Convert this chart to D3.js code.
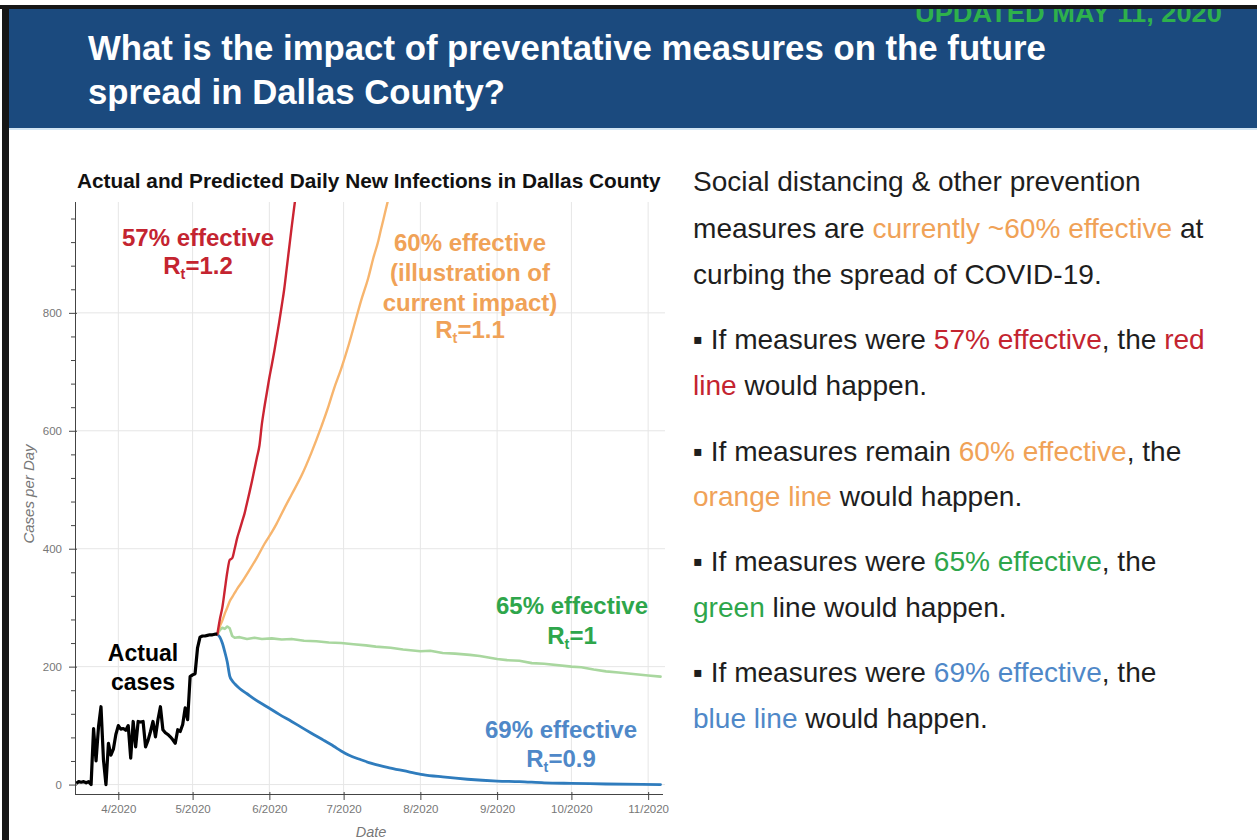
<!DOCTYPE html>
<html>
<head>
<meta charset="utf-8">
<script src="https://cdn.jsdelivr.net/npm/d3@7"></script>
<style>
  html, body { margin: 0; padding: 0; background: #fff; }
  svg { display: block; }
</style>
</head>
<body>
<svg id="chart" width="1257" height="840"></svg>
<script>
// ---------------- DATA ----------------
const actualStart = "2020-03-15";
// daily reported cases, 2020-03-15 .. 2020-05-11
const actualCases = [2, 5, 4, 5, 3, 5, 0, 95, 40, 98, 132, 42, 0, 70, 50, 60, 85,
  100, 94, 95, 92, 100, 45, 107, 64, 107, 106, 107, 64, 75, 90, 107, 81, 110, 132,
  93, 88, 85, 81, 76, 70, 93, 90, 102, 130, 110, 183, 186, 188, 232, 250, 252, 252,
  253, 254, 254, 255, 255];

const red57 = [["2020-05-11",255],["2020-05-12",280],["2020-05-13",300],["2020-05-14",330],["2020-05-15",360],
  ["2020-05-16",381],["2020-05-17",384],["2020-05-18",400],["2020-05-19",418],["2020-05-20",432],["2020-05-21",446],
  ["2020-05-22",460],["2020-05-23",478],["2020-05-24",496],["2020-05-25",515],["2020-05-26",535],["2020-05-27",555],
  ["2020-05-28",575],["2020-05-29",612],["2020-05-30",640],["2020-05-31",665],["2020-06-01",690],["2020-06-02",712],
  ["2020-06-03",735],["2020-06-04",760],["2020-06-05",785],["2020-06-06",812],["2020-06-07",840],["2020-06-08",875],
  ["2020-06-09",910],["2020-06-10",945],["2020-06-11",978],["2020-06-12",1010]];

const orange60 = [["2020-05-11",255],["2020-05-12",268],["2020-05-13",278],["2020-05-14",290],["2020-05-15",300],
  ["2020-05-16",311],["2020-05-17",318],["2020-05-18",325],["2020-05-19",332],["2020-05-21",344],["2020-05-24",364],
  ["2020-05-27",385],["2020-05-30",408],["2020-06-02",428],["2020-06-04",443],["2020-06-07",468],["2020-06-10",492],
  ["2020-06-14",524],["2020-06-18",563],["2020-06-22",607],["2020-06-25",643],["2020-06-27",670],["2020-06-30",705],
  ["2020-07-03",745],["2020-07-06",790],["2020-07-08",820],["2020-07-11",860],["2020-07-13",893],["2020-07-15",922],
  ["2020-07-16",940],["2020-07-17",957],["2020-07-18",975],["2020-07-19",992]];

const green65 = [["2020-05-11",255],["2020-05-12",262],["2020-05-13",266],["2020-05-14",264],["2020-05-15",268],
  ["2020-05-16",265],["2020-05-17",252],["2020-05-18",249],["2020-05-20",250],["2020-05-23",247],["2020-05-26",249],
  ["2020-05-29",247],["2020-06-02",248],["2020-06-06",246],["2020-06-10",247],["2020-06-15",244],["2020-06-20",243],
  ["2020-06-25",241],["2020-06-30",240],["2020-07-05",238],["2020-07-10",236],["2020-07-14",234],["2020-07-20",232],
  ["2020-07-25",229],["2020-08-01",226],["2020-08-05",227],["2020-08-10",223],["2020-08-15",222],["2020-08-21",220],
  ["2020-08-25",218],["2020-09-01",213],["2020-09-05",211],["2020-09-10",210],["2020-09-15",206],["2020-09-20",205],
  ["2020-10-01",200],["2020-10-05",199],["2020-10-10",195],["2020-10-15",192],["2020-10-20",190],["2020-10-25",188],
  ["2020-11-01",185],["2020-11-06",183]];

const blue69 = [["2020-05-11",255],["2020-05-12",250],["2020-05-13",240],["2020-05-14",225],["2020-05-15",208],
  ["2020-05-16",184],["2020-05-17",176],["2020-05-18",171],["2020-05-20",163],["2020-05-23",154],["2020-05-26",145],
  ["2020-05-31",132],["2020-06-05",119],["2020-06-10",107],["2020-06-14",97],["2020-06-18",87],["2020-06-23",75],
  ["2020-06-27",65],["2020-06-30",57],["2020-07-03",50],["2020-07-08",42],["2020-07-13",35],["2020-07-20",28],
  ["2020-07-27",22],["2020-08-02",17],["2020-08-10",13],["2020-08-20",9],["2020-09-01",6],["2020-09-10",5],
  ["2020-09-20",3],["2020-10-01",2],["2020-10-15",1],["2020-11-06",0]];

const yMajorTicks = [0, 200, 400, 600, 800];
const yMinorTicks = [40, 80, 120, 160, 240, 280, 320, 360, 440, 480, 520, 560, 640, 680, 720, 760, 840, 880, 920, 960];
const xTickDates = ["2020-04-01","2020-05-01","2020-06-01","2020-07-01","2020-08-01","2020-09-01","2020-10-01","2020-11-01"];

const headerLines = ["What is the impact of preventative measures on the future", "spread in Dallas County?"];
const updatedText = "UPDATED MAY 11, 2020";
const chartTitle = "Actual and Predicted Daily New Infections in Dallas County";

// ---------------- SETUP ----------------
const parse = d3.utcParse("%Y-%m-%d");
const svg = d3.select("#chart");
const W = 1257, H = 840;

const C = {
  red: "#c42430", redLine: "#cb2432",
  orange: "#f0a257", orangeLine: "#f7b56e",
  green: "#2ea64b", greenLine: "#a9d79f",
  blue: "#4f88c8", blueLine: "#2f7cbd",
  header: "#1b4a7e"
};

function fitFont(sel, target) {
  const w = sel.node().getComputedTextLength();
  const fs = parseFloat(sel.attr("font-size"));
  const nfs = fs * target / w;
  sel.attr("font-size", nfs);
  return nfs;
}

// ---------------- HEADER ----------------
svg.append("rect").attr("x", 0).attr("y", 0).attr("width", W).attr("height", H).attr("fill", "#fff");
svg.append("rect").attr("x", 9).attr("y", 9).attr("width", W - 9).attr("height", 119).attr("fill", C.header);
svg.append("rect").attr("x", 9).attr("y", 128).attr("width", W - 9).attr("height", 2).attr("fill", "#d3e5f3");

const upd = svg.append("text")
  .attr("x", 0).attr("y", 0)
  .attr("font-family", "Liberation Sans, Arial, sans-serif")
  .attr("font-weight", "bold").attr("font-size", 26)
  .attr("fill", "#2eb14c")
  .text(updatedText);
{
  const w = upd.node().getComputedTextLength();
  const sx = 307 / w;
  upd.attr("transform", `translate(915,22) scale(${sx},1)`);
}

const h1 = svg.append("text")
  .attr("x", 88).attr("y", 60)
  .attr("font-family", "Liberation Sans, Arial, sans-serif")
  .attr("font-weight", "bold").attr("font-size", 28)
  .attr("fill", "#fff").text(headerLines[0]);
const hfs = fitFont(h1, 958);
svg.append("text")
  .attr("x", 88).attr("y", 104)
  .attr("font-family", "Liberation Sans, Arial, sans-serif")
  .attr("font-weight", "bold").attr("font-size", hfs)
  .attr("fill", "#fff").text(headerLines[1]);

// top/left frame drawn over header (clips the "UPDATED" text)
svg.append("rect").attr("x", 0).attr("y", 0).attr("width", W).attr("height", 5).attr("fill", "#fff");
svg.append("rect").attr("x", 0).attr("y", 5).attr("width", W).attr("height", 4).attr("fill", "#161616");
svg.append("rect").attr("x", 2).attr("y", 5).attr("width", 7).attr("height", H - 5).attr("fill", "#161616");

// ---------------- CHART ----------------
const plot = { left: 75, right: 663, top: 202, bottom: 794 };
const x = d3.scaleUtc()
  .domain([parse("2020-03-14").getTime() + 12 * 3600e3, parse("2020-11-07").getTime()].map(t => new Date(t)))
  .range([plot.left, plot.right]);
const y = d3.scaleLinear().domain([-16, 988]).range([plot.bottom, plot.top]);

const g = svg.append("g");

// title
const ct = g.append("text")
  .attr("x", 77).attr("y", 188)
  .attr("font-family", "Liberation Sans, Arial, sans-serif")
  .attr("font-weight", "bold").attr("font-size", 18)
  .attr("fill", "#111").text(chartTitle);
fitFont(ct, 584);

// grid
const xTicks = xTickDates.map(parse);
g.append("g").selectAll("line").data(xTicks).join("line")
  .attr("x1", d => x(d)).attr("x2", d => x(d))
  .attr("y1", plot.top).attr("y2", plot.bottom)
  .attr("stroke", "#e6e6e6").attr("stroke-width", 1);
g.append("g").selectAll("line").data(yMajorTicks).join("line")
  .attr("x1", plot.left).attr("x2", plot.right + 2)
  .attr("y1", d => y(d)).attr("y2", d => y(d))
  .attr("stroke", "#e6e6e6").attr("stroke-width", 1);

// clip
svg.append("defs").append("clipPath").attr("id", "plotclip")
  .append("rect").attr("x", plot.left).attr("y", plot.top)
  .attr("width", plot.right - plot.left).attr("height", plot.bottom - plot.top);

const line = d3.line().x(d => x(d[0])).y(d => y(d[1]));
const smooth = d3.line().x(d => x(d[0])).y(d => y(d[1])).curve(d3.curveMonotoneX);
const toSeries = arr => arr.map(d => [parse(d[0]), d[1]]);
const startDate = parse(actualStart);
const actualSeries = actualCases.map((v, i) => [d3.utcDay.offset(startDate, i), v]);

const lines = g.append("g").attr("clip-path", "url(#plotclip)");
[[green65, C.greenLine, 2.6, line], [blue69, C.blueLine, 2.8, smooth],
 [orange60, C.orangeLine, 2.4, smooth], [red57, C.redLine, 2.4, smooth]]
  .forEach(([s, col, w, gen]) => {
    lines.append("path").datum(toSeries(s)).attr("d", gen)
      .attr("fill", "none").attr("stroke", col).attr("stroke-width", w)
      .attr("stroke-linejoin", "round").attr("stroke-linecap", "round");
  });
lines.append("path").datum(actualSeries).attr("d", line)
  .attr("fill", "none").attr("stroke", "#000").attr("stroke-width", 3.2)
  .attr("stroke-linejoin", "round");

// axes
const axisColor = "#444";
const tickFont = "Liberation Sans, Arial, sans-serif";
const yAx = g.append("g").attr("transform", `translate(${plot.left},0)`)
  .call(d3.axisLeft(y).tickValues(yMajorTicks).tickSize(6).tickSizeOuter(0).tickPadding(7));
const yMin = g.append("g").attr("transform", `translate(${plot.left},0)`)
  .call(d3.axisLeft(y).tickValues(yMinorTicks).tickSize(4).tickSizeOuter(0).tickFormat(""));
yMin.select(".domain").remove();
const xAx = g.append("g").attr("transform", `translate(0,${plot.bottom})`)
  .call(d3.axisBottom(x).tickValues(xTicks).tickSize(6).tickSizeOuter(0).tickPadding(5)
    .tickFormat(d3.utcFormat("%-m/%Y")));
[yAx, yMin, xAx].forEach(a => {
  a.select(".domain").attr("stroke", axisColor);
  a.selectAll(".tick line").attr("stroke", axisColor);
  a.selectAll(".tick text").attr("fill", "#777").attr("font-family", tickFont).attr("font-size", 11.5);
});
yAx.selectAll(".tick line").attr("x2", -6).attr("x1", 2);
xAx.selectAll(".tick line").attr("y1", -2);
yAx.select(".domain").attr("d", `M0.5,${plot.top}V${plot.bottom}`);
xAx.select(".domain").attr("d", `M${plot.left},0.5H${plot.right}`);

// axis labels
g.append("text")
  .attr("transform", `translate(34,${(plot.top + plot.bottom) / 2 - 4}) rotate(-90)`)
  .attr("text-anchor", "middle")
  .attr("font-family", tickFont).attr("font-style", "italic").attr("font-size", 15)
  .attr("fill", "#777").text("Cases per Day");
g.append("text")
  .attr("x", (plot.left + plot.right) / 2 + 2).attr("y", 837)
  .attr("text-anchor", "middle")
  .attr("font-family", tickFont).attr("font-style", "italic").attr("font-size", 14.5)
  .attr("fill", "#777").text("Date");

// annotations
function annot(cx, lines, col, fs) {
  lines.forEach(([txt, by, rt]) => {
    const t = g.append("text").attr("x", cx).attr("y", by)
      .attr("text-anchor", "middle")
      .attr("font-family", "Liberation Sans, Arial, sans-serif")
      .attr("font-weight", "bold").attr("font-size", fs).attr("fill", col);
    if (rt) {
      t.append("tspan").text("R");
      t.append("tspan").attr("font-size", fs * 0.6).attr("dy", fs * 0.22).text("t");
      t.append("tspan").attr("dy", -fs * 0.22).text(txt);
    } else {
      t.text(txt);
    }
  });
}
const AFS = 24;
annot(198, [["57% effective", 246], ["=1.2", 274, true]], C.red, AFS);
annot(470, [["60% effective", 251], ["(illustration of", 281], ["current impact)", 311], ["=1.1", 338, true]], C.orange, AFS);
annot(572, [["65% effective", 614], ["=1", 644, true]], C.green, AFS);
annot(561, [["69% effective", 738], ["=0.9", 767, true]], C.blue, AFS);
annot(143, [["Actual", 661], ["cases", 690]], "#000", 23);

// ---------------- RIGHT TEXT ----------------
const ink = "#1e1e1e";
const para = [
  [191, [["Social distancing & other prevention", ink]]],
  [238, [["measures are ", ink], ["currently ~60% effective", C.orange], [" at", ink]]],
  [284, [["curbing the spread of COVID-19.", ink]]],
  [349, [["\u25AA ", ink], ["If measures were ", ink], ["57% effective", C.red], [", the ", ink], ["red", C.red]]],
  [395, [["line", C.red], [" would happen.", ink]]],
  [461, [["\u25AA ", ink], ["If measures remain ", ink], ["60% effective", C.orange], [", the", ink]]],
  [506, [["orange line", C.orange], [" would happen.", ink]]],
  [571, [["\u25AA ", ink], ["If measures were ", ink], ["65% effective", C.green], [", the", ink]]],
  [617, [["green", C.green], [" line would happen.", ink]]],
  [682, [["\u25AA ", ink], ["If measures were ", ink], ["69% effective", C.blue], [", the", ink]]],
  [728, [["blue line", C.blue], [" would happen.", ink]]]
];
const rFont = "Liberation Sans, Arial, sans-serif";
const probe = svg.append("text").attr("font-family", rFont).attr("font-size", 24).text(para[0][1][0][0]);
const rfs = 24 * 448 / probe.node().getComputedTextLength();
probe.remove();
para.forEach(([by, parts]) => {
  const t = svg.append("text").attr("x", 693).attr("y", by)
    .attr("font-family", rFont).attr("font-size", rfs).attr("xml:space", "preserve");
  parts.forEach(([s, col]) => t.append("tspan").attr("fill", col).text(s));
});
</script>
</body>
</html>
